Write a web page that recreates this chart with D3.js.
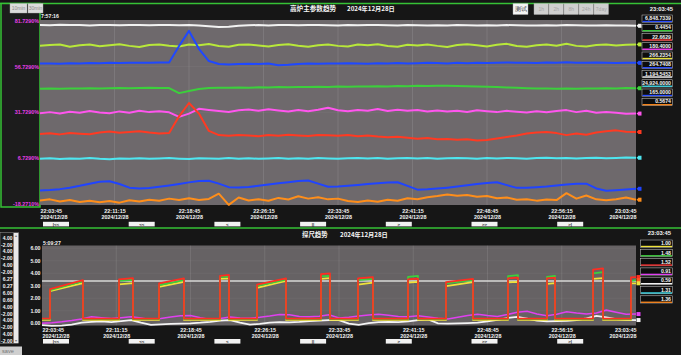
<!DOCTYPE html>
<html><head><meta charset="utf-8">
<script src="https://cdn.jsdelivr.net/npm/d3@7"></script>
<style>
html,body{margin:0;padding:0;background:#151515;overflow:hidden;}
svg{display:block;}
</style></head><body>
<svg id="c" width="681" height="355"></svg>
<script>
// ---------------- DATA ----------------
const dateStr = "2024/12/28";
const startTime = "2024/12/28 22:03:45";
const endTime = "2024/12/28 23:03:45";
const tickLabels = ["22:03:45","22:11:15","22:18:45","22:26:15","22:33:45","22:41:15","22:48:45","22:56:15","23:03:45"];
const navButtons = ["|<<","<<","<","||",">",">>",">|"];

// top chart (percent axis), one sample per minute from 22:03:45
const topAxisValues = [81.729, 56.729, 31.729, 6.729, -18.271];
const topAxisLabels = ["81.7290%","56.7290%","31.7290%","6.7290%","-18.2710%"];
const topWhite = [79.6,79.4,79.7,79.5,79.6,79.3,79.5,79.6,79.4,79.5,79.6,79.4,79.5,79.6,79.4,79.5,79.3,78.9,78.4,78.6,79.1,79.4,79.5,79.3,79.6,79.5,79.4,79.5,79.6,79.4,79.3,79.5,79.4,79.6,79.5,79.4,79.3,79.5,79.4,79.2,79.4,79.3,79.5,79.4,79.2,79.4,79.3,79.5,79.4,79.3,79.2,79.4,79.3,79.5,79.4,79.2,79.3,79.4,79.2,79.3,79.1];
const topYellow = [68.2,68.6,68.9,67.6,68.4,68.8,67.9,68.5,69.0,68.1,67.5,68.6,68.9,68.2,67.7,68.8,68.4,69.1,68.0,67.6,68.7,68.9,68.3,67.8,68.6,69.0,68.2,67.6,68.5,68.9,68.1,67.7,68.8,68.4,69.0,68.0,67.6,68.7,68.3,68.9,68.1,67.5,68.6,69.0,68.4,67.8,68.7,69.2,68.0,67.6,68.5,68.9,68.2,69.3,68.1,67.7,68.6,68.9,68.3,68.7,68.9];
const topBlue = [58.4,58.5,58.3,58.6,58.5,58.7,58.6,58.8,58.7,58.9,58.8,58.9,59.0,59.0,68.0,76.3,66.5,59.8,58.2,57.9,58.1,58.3,58.2,58.4,57.5,57.7,58.2,58.4,58.3,58.5,58.4,58.6,58.5,58.3,58.6,58.4,58.7,58.5,58.6,58.8,58.7,58.5,58.8,58.6,58.9,58.7,58.8,59.0,58.8,58.9,58.7,59.0,58.8,59.1,58.9,58.8,59.0,58.9,58.7,58.9,58.8];
const topGreen = [44.6,44.7,44.6,44.8,44.7,44.9,44.8,44.9,45.0,44.9,45.0,45.1,45.0,45.0,42.2,43.4,44.5,45.0,45.2,45.1,45.3,45.2,45.4,45.3,45.5,45.4,45.6,45.5,45.7,45.6,45.8,45.7,45.9,45.8,46.0,45.9,46.1,46.0,46.2,46.1,46.3,46.2,46.1,46.0,45.9,45.7,45.5,45.3,45.1,44.9,44.8,44.7,44.6,44.7,44.6,44.8,44.7,44.9,44.8,45.0,44.9];
const topMagenta = [31.2,31.8,31.0,32.0,31.4,32.4,31.6,31.2,32.2,31.5,32.6,31.8,32.3,31.7,29.2,31.0,33.6,33.0,32.4,31.9,32.8,33.2,32.5,33.4,32.7,32.1,32.9,32.3,33.1,34.2,32.8,32.3,33.0,32.6,33.5,32.4,33.1,32.5,32.9,32.2,32.7,32.1,32.6,31.9,32.8,32.3,31.8,32.5,32.0,31.6,32.3,31.7,32.4,32.9,31.8,32.6,31.5,31.9,31.4,30.9,31.0];
const topRed = [19.8,20.2,19.6,20.4,20.0,19.7,20.6,21.2,20.5,20.9,21.3,20.6,20.1,20.4,29.5,36.8,31.0,21.5,19.2,18.8,19.3,19.0,18.6,19.2,18.9,19.4,19.0,18.7,19.3,19.1,18.8,19.2,18.6,19.0,18.4,18.0,18.3,17.8,17.2,17.6,16.9,17.1,16.6,16.9,16.2,16.5,17.4,18.2,19.0,20.1,20.6,20.9,20.3,19.2,20.1,19.4,20.6,21.3,21.8,21.0,20.9];
const topCyan = [6.2,6.5,6.1,6.4,6.3,6.6,6.2,6.0,6.4,6.3,6.5,6.2,6.4,6.6,6.3,6.1,6.5,6.4,6.2,6.6,6.3,6.5,6.2,6.4,6.7,6.3,6.5,6.2,6.6,6.4,6.3,6.5,6.7,6.4,6.6,6.3,6.5,6.7,6.4,6.6,6.3,6.5,6.7,6.5,6.3,6.6,6.4,6.7,6.5,6.3,6.6,6.8,6.5,6.7,6.4,6.6,6.8,6.5,6.7,6.9,6.8];
const topBlueLow = [-11.1,-10.9,-10.4,-9.6,-8.6,-7.4,-6.4,-6.1,-7.6,-9.6,-10.1,-9.8,-9.1,-8.4,-7.6,-6.7,-5.9,-5.8,-7.4,-9.3,-9.5,-9.2,-8.6,-7.9,-7.2,-6.6,-6.0,-5.7,-7.4,-9.1,-9.0,-8.6,-8.1,-7.6,-7.2,-6.8,-6.6,-8.6,-10.7,-10.5,-10.1,-9.6,-9.0,-8.3,-7.6,-7.0,-6.6,-8.2,-9.7,-9.6,-9.3,-9.0,-8.4,-7.8,-7.4,-7.4,-10.0,-11.3,-11.0,-10.6,-10.2];
const topOrange = [-16.6,-16.0,-17.2,-16.4,-17.5,-16.8,-17.6,-16.9,-17.8,-16.5,-17.2,-16.2,-16.8,-15.6,-16.4,-15.4,-16.3,-15.8,-12.9,-19.0,-15.0,-16.6,-15.9,-16.8,-15.2,-16.1,-14.3,-15.6,-14.8,-16.0,-15.6,-16.9,-17.5,-16.6,-17.3,-16.2,-16.8,-15.4,-15.9,-14.8,-14.2,-13.4,-14.0,-13.6,-14.6,-14.2,-15.4,-15.0,-16.2,-16.0,-16.7,-16.1,-16.4,-12.6,-15.6,-13.9,-16.0,-16.5,-15.9,-15.0,-16.2];
const topLegendValues = ["6,848.7339","0.4454","22.6629","180.4000","266.2354","264.7408","1,194.5453","24,924.0000","165.0000","0.5674"];
const topLegendColors = ["#2a4dff","#3ccf3c","#ff3030","#ff3cff","#e6e23a","#2a4dff","#f2f2f2","#3ee0f0","#2a4dff","#ff8a1e"];

// bottom chart (探尺), pulses in minutes after 22:03:45
const bottomAxisValues = [0,1,2,3,4,5,6];
const pulseStart = [0.81,7.78,11.82,17.98,21.72,28.18,31.92,36.97,40.81,47.07,51.01,55.66,59.49];
const pulseEnd   = [4.14,9.19,14.34,18.89,24.65,29.09,33.43,37.98,43.54,48.08,51.82,56.67,60];
const redLevels    = [[2.73,3.45],[3.52,3.62],[3.19,3.59],[3.80,3.87],[3.10,3.59],[3.94,4.00],[3.60,3.70],[3.52,3.58],[3.30,3.56],[3.60,3.66],[3.60,3.65],[4.30,4.40],[3.68,3.70]];
const greenLevels  = [[2.64,3.36],[3.40,3.48],[3.05,3.45],[3.70,3.75],[3.00,3.50],[3.75,3.80],[3.45,3.55],[3.72,3.80],[3.20,3.45],[3.78,3.85],[3.72,3.80],[4.00,4.10],[3.40,3.45]];
const yellowLevels = [[2.57,3.21],[3.12,3.22],[2.92,3.32],[3.55,3.60],[2.84,3.40],[3.55,3.62],[3.10,3.26],[3.25,3.32],[2.98,3.30],[3.28,3.32],[3.15,3.22],[3.55,3.62],[3.19,3.20]];
const lowRed = 0.38, lowGreen = 0.33, lowYellow = 0.27;
const limitLevel = 3.38;
const bottomMagenta = [0.00,0.05,0.12,0.22,0.35,0.52,0.45,0.38,0.45,0.52,0.42,0.28,0.38,0.50,0.60,0.62,0.45,0.30,0.38,0.50,0.42,0.40,0.48,0.58,0.70,0.68,0.55,0.52,0.56,0.68,0.42,0.48,0.58,0.66,0.72,0.65,0.55,0.52,0.60,0.50,0.40,0.34,0.48,0.62,0.72,0.62,0.55,0.70,0.88,0.96,0.75,0.60,0.72,0.92,0.82,0.75,0.82,1.05,0.88,0.72,0.74];
const bottomWhite = [-0.15,-0.20,-0.18,-0.10,0.05,0.12,0.15,0.10,0.18,0.25,0.05,-0.12,-0.08,-0.05,-0.02,0.00,0.05,0.12,0.22,0.25,0.05,-0.10,-0.05,0.05,0.10,0.08,0.12,0.18,0.22,0.25,0.26,-0.02,-0.12,0.02,0.10,0.12,0.10,0.15,0.25,0.32,0.00,-0.02,0.00,0.02,0.05,0.15,0.28,0.42,0.52,0.38,0.22,0.15,0.18,0.20,0.25,0.40,0.60,0.48,0.34,0.28,0.26];
const bottomLegendValues = ["1.00","1.48","1.52","0.91","0.59","1.31","1.36"];
const bottomLegendColors = ["#eee23a","#3ccf3c","#ff3030","#e040f0","#f2f2f2","#3ee0f0","#ff8a1e"];
const sideList = ["4.00","-2.00","4.00","-2.00","4.00","-2.00","6.27","0.27","6.00","0.60","4.00","-2.00","4.00","-2.00","4.00","-2.00"];

// ---------------- DRAW ----------------
const parse = d3.timeParse("%Y/%m/%d %H:%M:%S");
const t0 = parse(startTime), t1 = parse(endTime);
const atMin = m => new Date(t0.getTime() + m*60000);
const tickDates = tickLabels.map(s => parse("2024/12/28 " + s));
const svg = d3.select("#c");
const FONT = "'Liberation Sans','DejaVu Sans',sans-serif";
const CJK = "'Noto Sans CJK SC','Noto Sans',sans-serif";
const GREEN = "#36c236";

svg.append("rect").attr("width",681).attr("height",355).attr("fill","#161616");

// ---- top frame ----
svg.append("line").attr("x1",0).attr("x2",681).attr("y1",3.5).attr("y2",3.5).attr("stroke",GREEN).attr("stroke-width",1.5);
svg.append("rect").attr("x",1).attr("y",3.5).attr("width",39).attr("height",203.5).attr("fill","#1c1c1c").attr("stroke",GREEN).attr("stroke-width",1.5);

function button(x,y,w,h,label,fill,color,fs){
  svg.append("rect").attr("x",x).attr("y",y).attr("width",w).attr("height",h).attr("fill",fill).attr("stroke","#aaa").attr("stroke-width",0.4);
  svg.append("text").attr("x",x+w/2).attr("y",y+h/2+fs*0.36).attr("text-anchor","middle").attr("font-size",fs).attr("font-family",FONT).attr("fill",color).text(label);
}
button(10,3.5,17,9.5,"10min","#dcdcdc","#8a8a8a",5);
button(28,3.5,15,9.5,"30min","#dcdcdc","#8a8a8a",5);
button(513,3.5,15,11,"测试","#f4f4f4","#333",5.5);
["1h","2h","8h","24h","7day"].forEach((l,i)=>button(534+i*15,3.5,14.5,11,l,"#cfcfcf","#a5a5a5",5));

function txt(x,y,s,opt={}){
  return svg.append("text").attr("x",x).attr("y",y).attr("font-size",opt.fs||5.6).attr("font-family",opt.ff||FONT)
    .attr("font-weight",opt.fw||"bold").attr("fill",opt.fill||"#f4f4f4").attr("text-anchor",opt.anchor||"start").text(s);
}
txt(290,10.5,"高炉主参数趋势",{ff:CJK,fs:6.6});
txt(347,10.5,"2024年12月28日",{ff:CJK,fs:6.2});
txt(673,10.5,"23:03:45",{anchor:"end",fs:5.8});
txt(41,17.5,"7:57:16",{fs:5.2});

// ---- top plot ----
const TX0=40, TX1=636, TY0=20, TY1=205;
const xTop = d3.scaleTime().domain([t0,t1]).range([TX0,TX1]);
const yTop = d3.scaleLinear().domain([-18.271,81.729]).range([203.5,21]);
svg.append("rect").attr("x",TX0).attr("y",TY0).attr("width",TX1-TX0).attr("height",TY1-TY0).attr("fill","#6e696c");
const gTop = svg.append("g");
gTop.selectAll("line.vg").data(tickDates.slice(1,-1)).join("line")
  .attr("x1",d=>xTop(d)).attr("x2",d=>xTop(d)).attr("y1",TY0).attr("y2",TY1).attr("stroke","rgba(255,255,255,0.13)").attr("stroke-width",0.8);
gTop.selectAll("line.hg").data(topAxisValues.slice(1,-1)).join("line")
  .attr("x1",TX0).attr("x2",TX1).attr("y1",d=>yTop(d)).attr("y2",d=>yTop(d)).attr("stroke","rgba(255,255,255,0.06)").attr("stroke-width",0.8);

const topSeries = [
  {v:topWhite,c:"#f2f2f2"},{v:topYellow,c:"#b8e83a"},{v:topBlue,c:"#1f48ff"},{v:topGreen,c:"#3ccf3c"},
  {v:topMagenta,c:"#ff55ee"},{v:topRed,c:"#ff3a22"},{v:topCyan,c:"#4ee6f0"},{v:topBlueLow,c:"#2044ff"},{v:topOrange,c:"#ff8e1a"}
];
const lineTop = d3.line().x((d,i)=>xTop(atMin(i))).y(d=>yTop(d));
topSeries.forEach(s=>{
  gTop.append("path").attr("d",lineTop(s.v)).attr("fill","none").attr("stroke",s.c).attr("stroke-width",2).attr("stroke-linejoin","round");
  const yy = yTop(s.v[s.v.length-1]);
  gTop.append("path").attr("d",`M${TX1+0.5},${yy} L${TX1+3},${yy-2.2} L${TX1+3},${yy+2.2} Z`).attr("fill",s.c);
  gTop.append("rect").attr("x",TX1+2.5).attr("y",yy-2).attr("width",3).attr("height",4).attr("fill",s.c);
});
topAxisValues.forEach((v,i)=>txt(39,yTop(v)+2,topAxisLabels[i],{anchor:"end",fill:"#e83ee8",fs:5.4}));

// top legend
topLegendValues.forEach((s,i)=>{
  const y = 15 + i*9.25;
  svg.append("rect").attr("x",642).attr("y",y).attr("width",30.5).attr("height",7.2).attr("fill","#0d0d0d").attr("stroke","#cfcfcf").attr("stroke-width",0.5);
  svg.append("rect").attr("x",642.5).attr("y",y+5.8).attr("width",29.5).attr("height",1.3).attr("fill",topLegendColors[i]);
  txt(671,y+5.2,s,{anchor:"end",fs:5.2});
});

// axes
function timeAxis(scale,y){
  const g = svg.append("g").attr("transform",`translate(0,${y})`)
    .call(d3.axisBottom(scale).tickValues(tickDates).tickSize(0).tickPadding(0).tickFormat(d3.timeFormat("%H:%M:%S")));
  g.select(".domain").remove();
  g.attr("font-family",FONT).attr("font-size",5.4);
  g.selectAll(".tick text").each(function(d,i){
    const t = d3.select(this); const lbl = t.text(); t.text(null);
    t.attr("y",0).attr("dy",0).attr("fill","#f4f4f4").attr("font-weight","bold")
     .attr("text-anchor", i===0 ? "start" : (i===tickDates.length-1 ? "end" : "middle"));
    t.append("tspan").attr("x",0).attr("dy",0).text(lbl);
    t.append("tspan").attr("x",0).attr("dy",6.3).text(dateStr);
  });
}
timeAxis(xTop,212.5);
function navRow(y){
  navButtons.forEach((b,i)=>{
    const x = 43 + i*85.7;
    svg.append("rect").attr("x",x).attr("y",y).attr("width",26).attr("height",4.6).attr("fill","#f2f2f2");
    svg.append("text").attr("x",x+13).attr("y",y+3.9).attr("text-anchor","middle").attr("font-size",4.4).attr("font-weight","bold")
      .attr("font-family",FONT).attr("fill","#222").text(b);
  });
}
navRow(221.8);

// ---- bottom frame ----
svg.append("line").attr("x1",0).attr("x2",681).attr("y1",228).attr("y2",228).attr("stroke",GREEN).attr("stroke-width",1.5);
// side list
svg.append("rect").attr("x",0).attr("y",232.5).attr("width",18.5).attr("height",111).attr("fill","#1b1b1b").attr("stroke","#9a9a9a").attr("stroke-width",0.5);
svg.append("rect").attr("x",13.5).attr("y",233).attr("width",4.8).attr("height",110).attr("fill","#e9e9e9");
txt(15.9,237,"▴",{anchor:"middle",fs:4,fill:"#777",fw:"normal",ff:"'DejaVu Sans',sans-serif"});
txt(15.9,342,"▾",{anchor:"middle",fs:4,fill:"#777",fw:"normal",ff:"'DejaVu Sans',sans-serif"});
sideList.forEach((s,i)=>txt(12.5,239.6+i*6.9,s,{anchor:"end",fs:5}));
svg.append("rect").attr("x",0).attr("y",346.5).attr("width",22).attr("height",9).attr("fill","#cfcfcf");
txt(2,352.8,"save",{fs:5.6,fw:"normal",fill:"#777"});

txt(302,236.5,"探尺趋势",{ff:CJK,fs:6.4});
txt(340,236.5,"2024年12月28日",{ff:CJK,fs:6.2});
txt(671,235,"23:03:45",{anchor:"end",fs:5.8});
txt(43,245,"5:09:27",{fs:5.2});

const BX0=42, BX1=636, BY0=245.5, BY1=325.5;
const xBot = d3.scaleTime().domain([t0,t1]).range([BX0,BX1]);
const yBot = d3.scaleLinear().domain([0,6]).range([323.3,248.3]);
svg.append("rect").attr("x",BX0).attr("y",BY0).attr("width",BX1-BX0).attr("height",BY1-BY0).attr("fill","#666264");
const gBot = svg.append("g");
gBot.selectAll("line.vg").data(tickDates.slice(1,-1)).join("line")
  .attr("x1",d=>xBot(d)).attr("x2",d=>xBot(d)).attr("y1",BY0).attr("y2",BY1).attr("stroke","rgba(255,255,255,0.12)").attr("stroke-width",0.8);
gBot.selectAll("line.hg").data(bottomAxisValues.slice(1)).join("line")
  .attr("x1",BX0).attr("x2",BX1).attr("y1",d=>yBot(d)).attr("y2",d=>yBot(d)).attr("stroke","rgba(255,255,255,0.06)").attr("stroke-width",0.8);
bottomAxisValues.forEach(v=>txt(40.5,yBot(v)+2,v.toFixed(2),{anchor:"end",fs:5.2}));

function pulseSeries(levels,low){
  const pts=[{t:0,v:low}];
  pulseStart.forEach((s,k)=>{
    const e=pulseEnd[k];
    pts.push({t:s,v:low},{t:s,v:levels[k][0]},{t:e,v:levels[k][1]});
    if(e<60) pts.push({t:e,v:low});
  });
  if(pulseEnd[pulseEnd.length-1]<60) pts.push({t:60,v:low});
  return pts;
}
const lineBotP = d3.line().x(d=>xBot(atMin(d.t))).y(d=>yBot(d.v));
const lineBotI = d3.line().x((d,i)=>xBot(atMin(i))).y(d=>yBot(d));
// limit line
gBot.append("path").attr("d",lineBotP([{t:0,v:limitLevel},{t:60,v:limitLevel}])).attr("stroke","#d9d9d6").attr("stroke-width",1.6).attr("fill","none");
gBot.append("path").attr("d",lineBotI(bottomWhite)).attr("stroke","#f4f4f4").attr("stroke-width",1.8).attr("fill","none");
gBot.append("path").attr("d",lineBotI(bottomMagenta)).attr("stroke","#e040f0").attr("stroke-width",1.6).attr("fill","none");
const bSeries = [
  {p:pulseSeries(yellowLevels,lowYellow),c:"#eee23a"},
  {p:pulseSeries(greenLevels,lowGreen),c:"#3ccf3c"},
  {p:pulseSeries(redLevels,lowRed),c:"#ff2e22"}
];
bSeries.forEach(s=>{
  gBot.append("path").attr("d",lineBotP(s.p)).attr("fill","none").attr("stroke",s.c).attr("stroke-width",1.7).attr("stroke-linejoin","round");
});
// end markers
[{v:redLevels[12][1],c:"#ff2e22"},{v:greenLevels[12][1],c:"#ff5a1e"},{v:yellowLevels[12][1],c:"#eee23a"},
 {v:bottomMagenta[60],c:"#e040f0"},{v:bottomWhite[60],c:"#f4f4f4"}].forEach(m=>{
  gBot.append("rect").attr("x",BX1+0.5).attr("y",yBot(m.v)-2).attr("width",4).attr("height",4).attr("fill",m.c);
});

bottomLegendValues.forEach((s,i)=>{
  const y = 240 + i*9.3;
  svg.append("rect").attr("x",640.5).attr("y",y).attr("width",32).attr("height",7.2).attr("fill","#0d0d0d").attr("stroke","#cfcfcf").attr("stroke-width",0.5);
  svg.append("rect").attr("x",641).attr("y",y+5.8).attr("width",31).attr("height",1.3).attr("fill",bottomLegendColors[i]);
  txt(671,y+5.2,s,{anchor:"end",fs:5.2});
});

timeAxis(xBot,331.5);
navRow(339);
</script></body></html>
